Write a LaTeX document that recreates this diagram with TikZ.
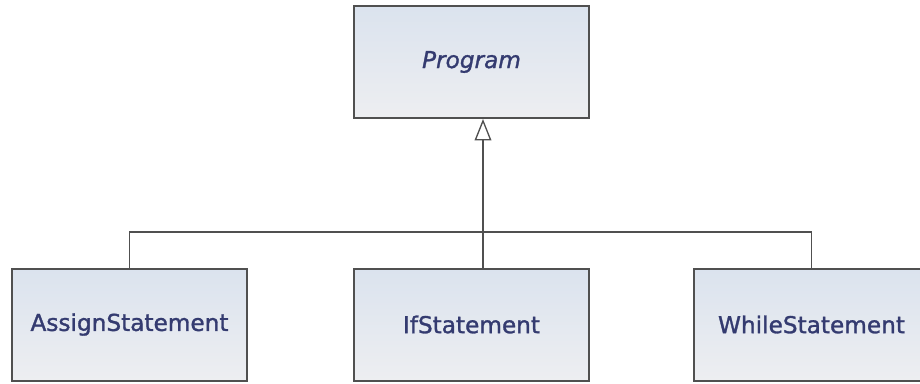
\documentclass[tikz,border=0pt]{standalone}
\usepackage{fontspec}
\setmainfont{DejaVu Sans}
\newfontfamily\umlfont[FakeBold=1.3]{DejaVu Sans}
\usetikzlibrary{arrows.meta,positioning}
\definecolor{boxtop}{HTML}{DBE3EE}
\definecolor{boxbot}{HTML}{EDEEF1}
\definecolor{umltext}{HTML}{343B70}
\definecolor{umlline}{HTML}{505050}
\tikzset{
  classbox/.style={draw=umlline, line width=1.5pt, top color=boxtop, bottom color=boxbot,
    minimum width=176pt, minimum height=84pt, inner sep=0pt, text=umltext,
    font=\umlfont\fontsize{17.4}{21}\selectfont},
  link/.style={draw=umlline, line width=1pt},
  inherit/.style={link, -{Triangle[open, length=16pt, width=12.5pt]}}
}
\begin{document}
\begin{tikzpicture}[x=0.75pt, y=-0.75pt]
\useasboundingbox (0,0) rectangle (920,383);

\node[classbox] (prog) at (471.5,62) {\itshape Program};

\node[classbox] (assign) at (129.5,324.5) {AssignStatement};
\node[classbox] (ifst) at (471.5,324.5) {IfStatement};
\node[classbox] (while) at (811.5,324.5) {WhileStatement};

\coordinate (bus) at (483,232);

\draw[link] (assign.north) |- (bus) -| (while.north);
\draw[link] (ifst.north -| bus) -- (bus);
\draw[inherit] (bus) -- (bus |- prog.south);

\end{tikzpicture}
\end{document}
